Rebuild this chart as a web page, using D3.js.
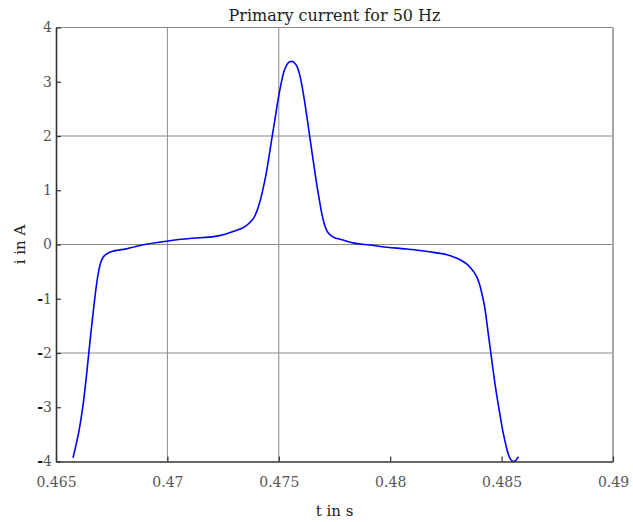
<!DOCTYPE html>
<html>
<head>
<meta charset="utf-8">
<script src="https://cdn.jsdelivr.net/npm/d3@7"></script>
<style>
  html, body { margin: 0; padding: 0; background: #fff; }
  svg { display: block; }
  .serif { font-family: "DejaVu Serif", Georgia, serif; }
  .tick-label { font-family: "DejaVu Serif", Georgia, serif; font-variant-numeric: oldstyle-nums; fill: #555; }
</style>
</head>
<body>
<svg id="chart" width="633" height="522"></svg>
<script>
// Primary current waveform over one period (t in s, i in A)
const timeS = [
  0.465763, 0.46585, 0.46594, 0.46603, 0.46612, 0.46621, 0.46630, 0.46639, 0.46648, 0.46657,
  0.46666, 0.46675, 0.46684, 0.46693, 0.46702, 0.46711, 0.46720, 0.46733, 0.46751, 0.46778,
  0.46810, 0.46855, 0.46886, 0.47003, 0.47110, 0.47214, 0.47259, 0.47294, 0.47326, 0.47348,
  0.47371, 0.47389, 0.47402, 0.47416, 0.47429, 0.47443, 0.47456, 0.47469, 0.47483, 0.47496,
  0.47510, 0.47523, 0.47537, 0.47548, 0.47559, 0.47570, 0.47582, 0.47593, 0.47604, 0.47615,
  0.47627, 0.47638, 0.47649, 0.47660, 0.47671, 0.47683, 0.47694, 0.47705, 0.47716, 0.47730,
  0.47748, 0.47775, 0.47806, 0.47833, 0.47909, 0.47986, 0.48066, 0.48134, 0.48201, 0.48255,
  0.48291, 0.48318, 0.48340, 0.48358, 0.48376, 0.48390, 0.48403, 0.48414, 0.48426, 0.48434,
  0.48443, 0.48452, 0.48461, 0.48470, 0.48479, 0.48488, 0.48497, 0.48506, 0.48515, 0.48524,
  0.48533, 0.48542, 0.48551, 0.48560, 0.48569, 0.48576
];
const currentA = [
  -3.93, -3.78, -3.62, -3.44, -3.22, -2.97, -2.67, -2.33, -1.97, -1.62,
  -1.28, -0.96, -0.68, -0.46, -0.32, -0.24, -0.195, -0.16, -0.13, -0.105,
  -0.085, -0.04, -0.01, 0.065, 0.114, 0.15, 0.19, 0.24, 0.285, 0.33,
  0.41, 0.50, 0.62, 0.80, 1.02, 1.30, 1.62, 1.96, 2.31, 2.65,
  2.96, 3.19, 3.32, 3.37, 3.375, 3.35, 3.28, 3.14, 2.93, 2.66,
  2.33, 2.01, 1.70, 1.39, 1.09, 0.80, 0.55, 0.37, 0.25, 0.18,
  0.13, 0.096, 0.06, 0.03, -0.01, -0.05, -0.08, -0.11, -0.15, -0.19,
  -0.24, -0.29, -0.35, -0.42, -0.51, -0.61, -0.76, -0.95, -1.20, -1.45,
  -1.73, -2.01, -2.29, -2.56, -2.80, -3.02, -3.24, -3.45, -3.62, -3.78,
  -3.90, -3.97, -3.995, -3.99, -3.95, -3.91
];
const xTicks = [0.465, 0.47, 0.475, 0.48, 0.485, 0.49];
const xTickLabels = ["0.465", "0.47", "0.475", "0.48", "0.485", "0.49"];
const yTicks = [-4, -3, -2, -1, 0, 1, 2, 3, 4];
const xGrid = [0.47, 0.475];
const yGrid = [-2, 0, 2];

const titleText = "Primary current for 50 Hz";
const xLabelText = "t in s";
const yLabelText = "i in A";

const margin = { left: 56, top: 27.5, right: 20, bottom: 60.5 };
const W = 633, H = 522;
const svg = d3.select("#chart");

const x = d3.scaleLinear().domain([0.465, 0.49]).range([margin.left, W - margin.right]);
const y = d3.scaleLinear().domain([-4, 4]).range([H - margin.bottom, margin.top]);

const [x0, x1] = x.range();
const [y0, y1] = y.range(); // y0 bottom, y1 top

// Grid lines
svg.append("g").selectAll("line").data(xGrid).join("line")
  .attr("x1", d => x(d)).attr("x2", d => x(d))
  .attr("y1", y1).attr("y2", y0)
  .attr("stroke", "#8a8a8a").attr("stroke-width", 1);
svg.append("g").selectAll("line").data(yGrid).join("line")
  .attr("x1", x0).attr("x2", x1)
  .attr("y1", d => y(d)).attr("y2", d => y(d))
  .attr("stroke", "#8a8a8a").attr("stroke-width", 1);

// Top and right frame
svg.append("line").attr("x1", x0).attr("x2", x1).attr("y1", y1).attr("y2", y1)
  .attr("stroke", "#8a8a8a").attr("stroke-width", 1);
svg.append("line").attr("x1", x1).attr("x2", x1).attr("y1", y1).attr("y2", y0)
  .attr("stroke", "#a8a8a8").attr("stroke-width", 2);

// Curve
const line = d3.line()
  .x((d, i) => x(timeS[i]))
  .y(d => y(d))
  .curve(d3.curveMonotoneX);
svg.append("path")
  .attr("d", line(currentA))
  .attr("fill", "none")
  .attr("stroke", "#0000ff")
  .attr("stroke-width", 1.6)
  .attr("stroke-linejoin", "round");

// Axes
const xAxis = d3.axisBottom(x).tickValues(xTicks).tickSizeInner(-5).tickSizeOuter(0)
  .tickFormat((d, i) => xTickLabels[i]).tickPadding(16);
const gx = svg.append("g").attr("transform", `translate(0,${y0})`).call(xAxis);
gx.select(".domain").attr("stroke", "#333").attr("stroke-width", 1.6);
gx.selectAll(".tick line").attr("stroke", "#333").attr("stroke-width", 1.2);
gx.selectAll(".tick text").attr("class", "tick-label").attr("font-size", 14);

const yAxis = d3.axisLeft(y).tickValues(yTicks).tickSizeInner(-5).tickSizeOuter(0)
  .tickFormat(() => "").tickPadding(4);
const gy = svg.append("g").attr("transform", `translate(${x0},0)`).call(yAxis);
gy.select(".domain").attr("stroke", "#333").attr("stroke-width", 1.6);
gy.selectAll(".tick line").attr("stroke", "#333").attr("stroke-width", 1.2);
// y tick labels with a darker minus sign
gy.selectAll(".tick text").each(function(d) {
  const t = d3.select(this).attr("class", "tick-label").attr("font-size", 14).attr("x", -4);
  if (d < 0) t.append("tspan").attr("fill", "#111").attr("font-weight", "bold").text("-");
  t.append("tspan").text(Math.abs(d));
});

// Title and axis labels
svg.append("text").attr("class", "serif")
  .attr("x", (x0 + x1) / 2).attr("y", 21)
  .attr("text-anchor", "middle").attr("font-size", 16).attr("fill", "#222")
  .text(titleText);
svg.append("text").attr("class", "serif")
  .attr("x", (x0 + x1) / 2).attr("y", 516)
  .attr("text-anchor", "middle").attr("font-size", 15).attr("fill", "#222")
  .text(xLabelText);
svg.append("text").attr("class", "serif")
  .attr("transform", `translate(25,${y(0)}) rotate(-90)`)
  .attr("text-anchor", "middle").attr("font-size", 15).attr("fill", "#222")
  .text(yLabelText);
</script>
</body>
</html>
